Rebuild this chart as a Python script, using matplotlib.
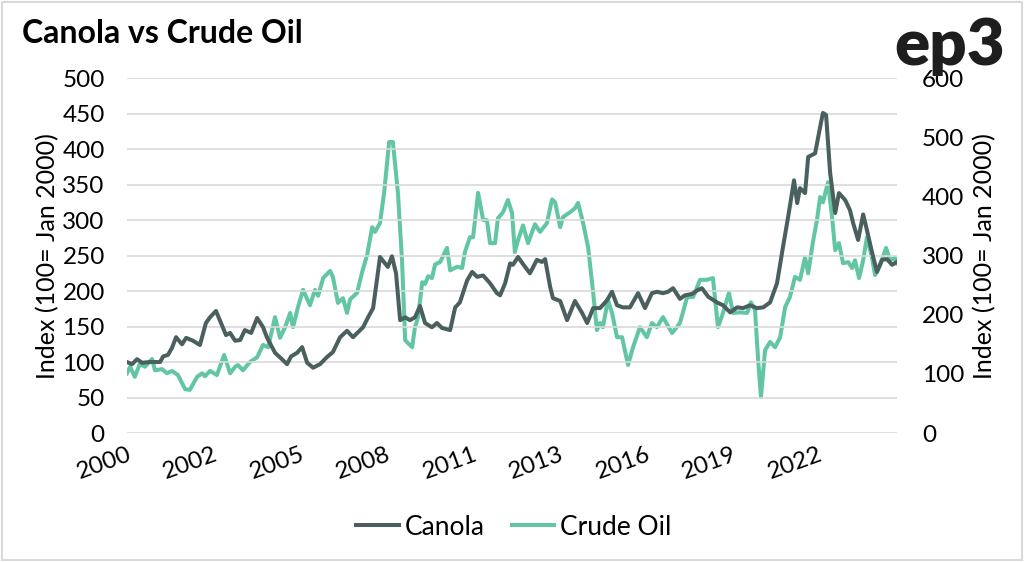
import pandas as pd
import matplotlib
matplotlib.use("Agg")
import matplotlib.pyplot as plt
from matplotlib.patches import Rectangle

# Canola index (asse sinistro): anno decimale, valore
canola_t = [2000.00, 2000.16, 2000.32, 2000.48, 2000.73, 2001.05, 2001.15, 2001.30, 2001.43, 2001.56,
            2001.75, 2001.88, 2002.10, 2002.32, 2002.51, 2002.64, 2002.83, 2002.99, 2003.15, 2003.28,
            2003.44, 2003.60, 2003.75, 2003.95, 2004.14, 2004.33, 2004.45, 2004.71, 2004.93, 2005.09,
            2005.22, 2005.41, 2005.57, 2005.73, 2005.92, 2006.14, 2006.36, 2006.55, 2006.78, 2007.00,
            2007.19, 2007.51, 2007.67, 2007.83, 2008.05, 2008.21, 2008.30, 2008.43, 2008.56, 2008.69,
            2008.85, 2009.00, 2009.16, 2009.32, 2009.48, 2009.70, 2009.86, 2010.02, 2010.28, 2010.44,
            2010.59, 2010.82, 2010.98, 2011.14, 2011.33, 2011.55, 2011.77, 2011.87, 2012.03, 2012.19,
            2012.28, 2012.44, 2012.60, 2012.82, 2013.04, 2013.20, 2013.30, 2013.46, 2013.55, 2013.78,
            2014.00, 2014.25, 2014.48, 2014.64, 2014.83, 2015.05, 2015.27, 2015.43, 2015.59, 2015.78,
            2016.00, 2016.26, 2016.48, 2016.70, 2016.86, 2017.05, 2017.21, 2017.37, 2017.59, 2017.75,
            2017.98, 2018.14, 2018.29, 2018.49, 2018.77, 2018.96, 2019.19, 2019.41, 2019.60, 2019.82,
            2020.04, 2020.24, 2020.46, 2020.68, 2020.87, 2021.03, 2021.22, 2021.32, 2021.41, 2021.57,
            2021.67, 2021.89, 2022.05, 2022.14, 2022.24, 2022.37, 2022.53, 2022.65, 2022.85, 2023.00,
            2023.10, 2023.26, 2023.42, 2023.54, 2023.70, 2023.86, 2024.02, 2024.18, 2024.34, 2024.50]
canola_v = [100, 97, 104, 99, 100, 100, 108, 110, 120, 135,
            125, 134, 130, 124, 155, 163, 172, 155, 138, 141,
            130, 131, 145, 141, 162, 149, 135, 113, 104, 97,
            108, 113, 121, 99, 92, 97, 107, 114, 135, 144,
            135, 149, 163, 176, 248, 239, 234, 249, 225, 159,
            163, 159, 163, 179, 155, 149, 155, 148, 145, 177,
            184, 215, 227, 220, 222, 211, 197, 194, 211, 239,
            237, 248, 238, 225, 244, 241, 245, 206, 190, 186,
            159, 186, 169, 155, 176, 176, 187, 199, 180, 177,
            177, 197, 176, 197, 199, 197, 199, 204, 189, 194,
            196, 201, 204, 192, 184, 180, 170, 177, 176, 180,
            176, 177, 184, 211, 262, 304, 356, 324, 345, 338,
            389, 394, 431, 451, 448, 366, 310, 338, 328, 314,
            296, 272, 308, 286, 255, 227, 244, 245, 237, 241]

# Crude Oil index (asse destro)
crude_t = [2000.00, 2000.10, 2000.25, 2000.41, 2000.57, 2000.80, 2000.89, 2001.11, 2001.27, 2001.43,
           2001.62, 2001.85, 2002.00, 2002.23, 2002.39, 2002.48, 2002.64, 2002.86, 2003.09, 2003.28,
           2003.44, 2003.53, 2003.69, 2003.91, 2004.14, 2004.33, 2004.49, 2004.71, 2004.87, 2005.03,
           2005.19, 2005.28, 2005.44, 2005.60, 2005.82, 2005.98, 2006.08, 2006.24, 2006.46, 2006.55,
           2006.71, 2006.87, 2007.00, 2007.10, 2007.32, 2007.48, 2007.64, 2007.80, 2007.89, 2008.05,
           2008.18, 2008.34, 2008.46, 2008.62, 2008.75, 2008.85, 2008.94, 2009.07, 2009.16, 2009.26,
           2009.39, 2009.48, 2009.58, 2009.70, 2009.80, 2009.96, 2010.18, 2010.28, 2010.50, 2010.66,
           2010.75, 2010.91, 2011.01, 2011.17, 2011.33, 2011.45, 2011.55, 2011.71, 2011.80, 2011.96,
           2012.12, 2012.25, 2012.34, 2012.44, 2012.60, 2012.76, 2012.98, 2013.14, 2013.36, 2013.52,
           2013.62, 2013.78, 2013.87, 2014.00, 2014.09, 2014.25, 2014.35, 2014.51, 2014.67, 2014.83,
           2014.95, 2015.05, 2015.14, 2015.30, 2015.43, 2015.59, 2015.75, 2015.94, 2016.10, 2016.32,
           2016.54, 2016.70, 2016.86, 2017.05, 2017.34, 2017.59, 2017.82, 2018.01, 2018.23, 2018.45,
           2018.64, 2018.80, 2018.96, 2019.15, 2019.28, 2019.50, 2019.73, 2019.85, 2019.98, 2020.08,
           2020.17, 2020.30, 2020.46, 2020.62, 2020.78, 2020.94, 2021.09, 2021.25, 2021.41, 2021.57,
           2021.67, 2021.83, 2021.95, 2022.05, 2022.14, 2022.30, 2022.43, 2022.53, 2022.65, 2022.78,
           2022.94, 2023.07, 2023.16, 2023.29, 2023.42, 2023.54, 2023.70, 2023.80, 2023.96, 2024.15,
           2024.28, 2024.43, 2024.50]
crude_v = [101, 112, 95, 117, 112, 125, 106, 108, 101, 105,
           98, 74, 73, 95, 101, 96, 105, 98, 132, 101,
           112, 115, 106, 120, 128, 149, 145, 196, 161, 179,
           203, 179, 213, 242, 216, 242, 232, 262, 274, 264,
           220, 228, 203, 226, 237, 272, 301, 348, 340, 355,
           406, 492, 492, 406, 292, 157, 152, 145, 179, 196,
           255, 252, 265, 262, 285, 289, 313, 275, 281, 279,
           306, 331, 331, 406, 360, 360, 321, 321, 363, 373,
           394, 372, 306, 326, 351, 321, 353, 340, 355, 395,
           390, 348, 365, 370, 373, 380, 389, 355, 314, 237,
           174, 186, 179, 225, 203, 162, 162, 115, 145, 179,
           162, 186, 179, 196, 169, 186, 230, 230, 259, 259,
           262, 179, 203, 237, 203, 204, 203, 221, 208, 123,
           61, 140, 154, 145, 162, 213, 230, 264, 259, 297,
           270, 326, 360, 399, 390, 424, 365, 309, 321, 287,
           289, 279, 292, 262, 292, 331, 297, 267, 284, 313,
           292, 296, 287]

# tick ogni 33 mesi come nel grafico originale
tick_months = [0, 33, 66, 99, 132, 165, 198, 231, 264]

CANOLA_COL = "#4a605e"
CRUDE_COL = "#62c6a3"
FONT = "Lato"
TICK_SIZE = 17.5


def to_dates(years):
    # anno decimale -> Timestamp
    return [pd.Timestamp(int(y), 1, 1) + pd.Timedelta(days=(y - int(y)) * 365.25) for y in years]


fig = plt.figure(figsize=(10.24, 5.62), dpi=100)
fig.patches.append(Rectangle((0.002, 0.003), 0.996, 0.994, transform=fig.transFigure,
                             fill=False, edgecolor="#d9d9d9", linewidth=1.5))

ax = fig.add_axes([0.124, 0.2295, 0.752, 0.6315])
ax2 = ax.twinx()

ax.plot(to_dates(canola_t), canola_v, color=CANOLA_COL, linewidth=2.9, label="Canola", zorder=3)
ax2.plot(to_dates(crude_t), crude_v, color=CRUDE_COL, linewidth=2.9, label="Crude Oil", zorder=2)

ax.set_zorder(ax2.get_zorder() + 1)
ax.patch.set_visible(False)

ax.set_ylim(0, 500)
ax.set_yticks(range(0, 501, 50))
ax2.set_ylim(0, 600)
ax2.set_yticks(range(0, 601, 100))
ax.grid(axis="y", color="#d9d9d9", linewidth=1.2)
ax.set_axisbelow(True)

start = pd.Timestamp(2000, 1, 1)
ax.set_xlim(start, pd.Timestamp(2024, 7, 1))
ticks = [start + pd.DateOffset(months=m) for m in tick_months]
ax.set_xticks(ticks)
ax.set_xticklabels([str(t.year) for t in ticks], rotation=20, ha="right",
                   rotation_mode="anchor", fontsize=TICK_SIZE, family=FONT)

for a in (ax, ax2):
    for s in a.spines.values():
        s.set_visible(False)
    a.tick_params(length=0, labelsize=TICK_SIZE)
ax.tick_params(axis="y", pad=16)
ax.tick_params(axis="x", pad=8)
ax2.tick_params(axis="y", pad=18)
for lab in ax.get_yticklabels() + ax2.get_yticklabels():
    lab.set_family(FONT)

ax.set_ylabel("Index (100= Jan 2000)", fontsize=18, family=FONT, labelpad=2)
ax2.set_ylabel("Index (100= Jan 2000)", fontsize=18, family=FONT, labelpad=6)

h1, l1 = ax.get_legend_handles_labels()
h2, l2 = ax2.get_legend_handles_labels()
fig.legend(h1 + h2, l1 + l2, loc="center", bbox_to_anchor=(0.502, 0.062), ncol=2,
           frameon=False, prop={"family": FONT, "size": 19}, handlelength=1.6,
           handletextpad=0.25, columnspacing=1.0)

fig.text(0.021, 0.923, "Canola vs Crude Oil", fontsize=23, fontweight="bold",
         family=FONT, va="baseline", ha="left")
# logo: sovrapposto al "600" come nell'originale
fig.text(0.981, 0.885, "ep3", fontsize=47, fontweight="heavy", family=FONT,
         va="baseline", ha="right", color="#1e1e1e", zorder=5)

fig.savefig("out.png", dpi=100)
